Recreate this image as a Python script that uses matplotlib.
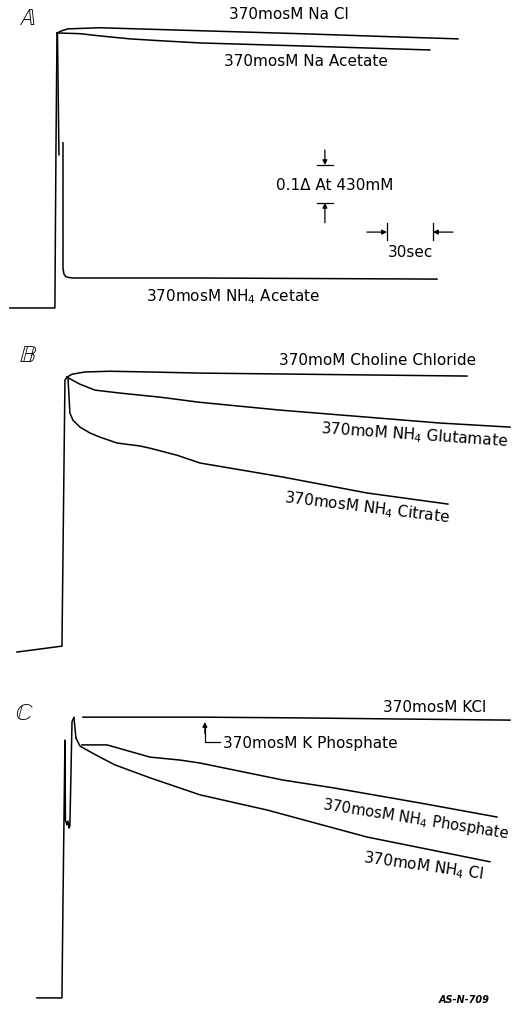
"""Absorbance traces after mixing with 370 mosM salt solutions (panels A-C)."""

import matplotlib
matplotlib.use("Agg")
import numpy as np
import matplotlib.pyplot as plt

nan = np.nan

# ---- panel A : time (s) after mixing, change in absorbance ----
a_rise_t = [-34.7, -4.7, -4.0, -3.3]
a_rise_A = [0.0, 0.0, 0.427, 0.743]
a_nacl_t = [-3.3, 0.0, 4.0, 25.3, 92.0, 158.7, 225.3, 264.0]
a_nacl_A = [0.743, 0.749, 0.754, 0.757, 0.749, 0.741, 0.732, 0.727]
a_naac_t = [-3.3, 12.0, 25.3, 45.3, 65.3, 92.0, 158.7, 245.3]
a_naac_A = [0.743, 0.741, 0.735, 0.727, 0.722, 0.716, 0.708, 0.697]
a_nh4ac_t = [-3.0, -2.0, nan, 0.7, 0.7, 1.3, 2.7, 6.7, 92.0, 250.0]
a_nh4ac_A = [0.743, 0.414, nan, 0.446, 0.108, 0.092, 0.084, 0.081, 0.081, 0.078]

# ---- panel B ----
b_rise_t = [-30.0, 0.0, 2.0, 3.3]
b_rise_A = [-0.016, 0.0, 0.719, 0.727]
b_chol_t = [3.3, 6.7, 15.3, 32.0, 58.7, 92.0, 158.7, 225.3, 270.0]
b_chol_A = [0.727, 0.735, 0.741, 0.743, 0.741, 0.738, 0.735, 0.732, 0.730]
b_glu_t = [3.3, 12.0, 22.0, 38.7, 65.3, 92.0, 145.3, 203.3, 252.0, 298.7]
b_glu_A = [0.727, 0.708, 0.692, 0.684, 0.673, 0.659, 0.638, 0.619, 0.603, 0.592]
b_cit_t = [4.0, 5.3, 7.3, 12.0, 18.7, 25.3, 36.7, 52.0, 58.7, 76.7, 92.0,
           147.3, 203.3, 257.3]
b_cit_A = [0.727, 0.630, 0.611, 0.592, 0.576, 0.565, 0.549, 0.541, 0.535,
           0.516, 0.495, 0.457, 0.414, 0.384]

# ---- panel C ----
c_rise_t = [-16.7, 0.0, 0.7, 2.0, 2.3, 3.3, 4.0, 4.7, 5.3, 6.7, 8.0, 9.3]
c_rise_A = [0.0, 0.0, 0.265, 0.697, 0.481, 0.468, 0.478, 0.459, 0.465,
            0.746, 0.759, 0.703]
c_kcl_t = [14.0, 92.0, 158.7, 225.3, 298.7]
c_kcl_A = [0.759, 0.759, 0.757, 0.754, 0.751]
c_nh4p_t = [13.3, 30.0, 58.7, 78.7, 92.0, 147.3, 180.7, 238.7, 290.0]
c_nh4p_A = [0.684, 0.684, 0.651, 0.643, 0.635, 0.589, 0.568, 0.527, 0.489]
c_nh4cl_t = [9.3, 12.0, 16.7, 25.3, 35.3, 58.7, 92.0, 136.7, 203.3, 285.3]
c_nh4cl_A = [0.703, 0.681, 0.670, 0.651, 0.630, 0.595, 0.549, 0.508, 0.435,
             0.368]

LW = 1.1
K = "black"
FS = 11
plt.rcParams["font.family"] = ["DejaVu Sans"]
plt.rcParams["mathtext.fontset"] = "dejavusans"

fig = plt.figure(figsize=(5.13, 10.09), dpi=100)
H = 1009.0


def panel(top_px, bot_px, ylim):
    ax = fig.add_axes([0, 1 - bot_px / H, 1, (bot_px - top_px) / H])
    ax.set_xlim(-41.3, 300.7)
    ax.set_ylim(*ylim)
    ax.axis("off")
    return ax


def trace(ax, t, a):
    ax.plot(t, a, color=K, lw=LW, solid_joinstyle="round")


def label(ax, t, a, s, rot=0, fs=FS, **kw):
    ax.text(t, a, s, ha="center", va="center", fontsize=fs, rotation=rot,
            rotation_mode="anchor", **kw)


def arrow(ax, start, end):
    ax.annotate("", xy=end, xytext=start,
                arrowprops=dict(arrowstyle="-|>", color=K, lw=0.9,
                                mutation_scale=7, shrinkA=0, shrinkB=0))


# panel A
ax = panel(0, 325, (-0.046, 0.832))
for t, a in [(a_rise_t, a_rise_A), (a_nacl_t, a_nacl_A),
             (a_naac_t, a_naac_A), (a_nh4ac_t, a_nh4ac_A)]:
    trace(ax, t, a)
label(ax, -23.3, 0.784, r"$\mathbb{A}$", fs=17)
label(ax, 151.3, 0.792, "370mosM Na Cl")
label(ax, 162.7, 0.665, "370mosM Na Acetate")
label(ax, 114.0, 0.030, "370mosM NH$_4$ Acetate")
label(ax, 182.0, 0.332, "0.1\u0394 At 430mM")
label(ax, 232.7, 0.149, "30sec")
# 0.1 absorbance scale
ax.plot([170.0, 180.7], [0.386, 0.386], color=K, lw=0.9)
ax.plot([170.0, 180.7], [0.284, 0.284], color=K, lw=0.9)
arrow(ax, (175.3, 0.427), (175.3, 0.386))
arrow(ax, (175.3, 0.230), (175.3, 0.284))
# 30 s scale
ax.plot([216.7, 216.7], [0.184, 0.230], color=K, lw=0.9)
ax.plot([247.3, 247.3], [0.184, 0.230], color=K, lw=0.9)
arrow(ax, (203.3, 0.205), (216.7, 0.205))
arrow(ax, (260.7, 0.205), (247.3, 0.205))

# panel B
ax = panel(325, 665, (-0.051, 0.868))
for t, a in [(b_rise_t, b_rise_A), (b_chol_t, b_chol_A),
             (b_glu_t, b_glu_A), (b_cit_t, b_cit_A)]:
    trace(ax, t, a)
label(ax, -22.7, 0.786, r"$\mathbb{B}$", fs=17)
label(ax, 210.7, 0.773, "370moM Choline Chloride")
label(ax, 234.7, 0.570, "370moM NH$_4$ Glutamate", rot=-4)
label(ax, 203.3, 0.373, "370mosM NH$_4$ Citrate", rot=-7)

# panel C
ax = panel(665, 1009, (-0.030, 0.900))
for t, a in [(c_rise_t, c_rise_A), (c_kcl_t, c_kcl_A),
             (c_nh4p_t, c_nh4p_A), (c_nh4cl_t, c_nh4cl_A)]:
    trace(ax, t, a)
label(ax, -25.3, 0.770, r"$\mathbb{C}$", fs=17)
label(ax, 248.7, 0.784, "370mosM KCl")
label(ax, 236.0, 0.482, "370mosM NH$_4$ Phosphate", rot=-9, fs=10.6)
label(ax, 240.7, 0.355, "370moM NH$_4$ Cl", rot=-8)
ax.plot([95.3, 95.3, 105.3], [0.730, 0.692, 0.692], color=K, lw=0.9)
arrow(ax, (95.3, 0.715), (95.3, 0.746))
ax.text(107.3, 0.689, "370mosM K Phosphate", ha="left", va="center",
        fontsize=FS)
label(ax, 268.0, -0.005, "AS-N-709", fs=7, style="italic",
      fontweight="bold")

fig.savefig("out.png", dpi=100, facecolor="white")
